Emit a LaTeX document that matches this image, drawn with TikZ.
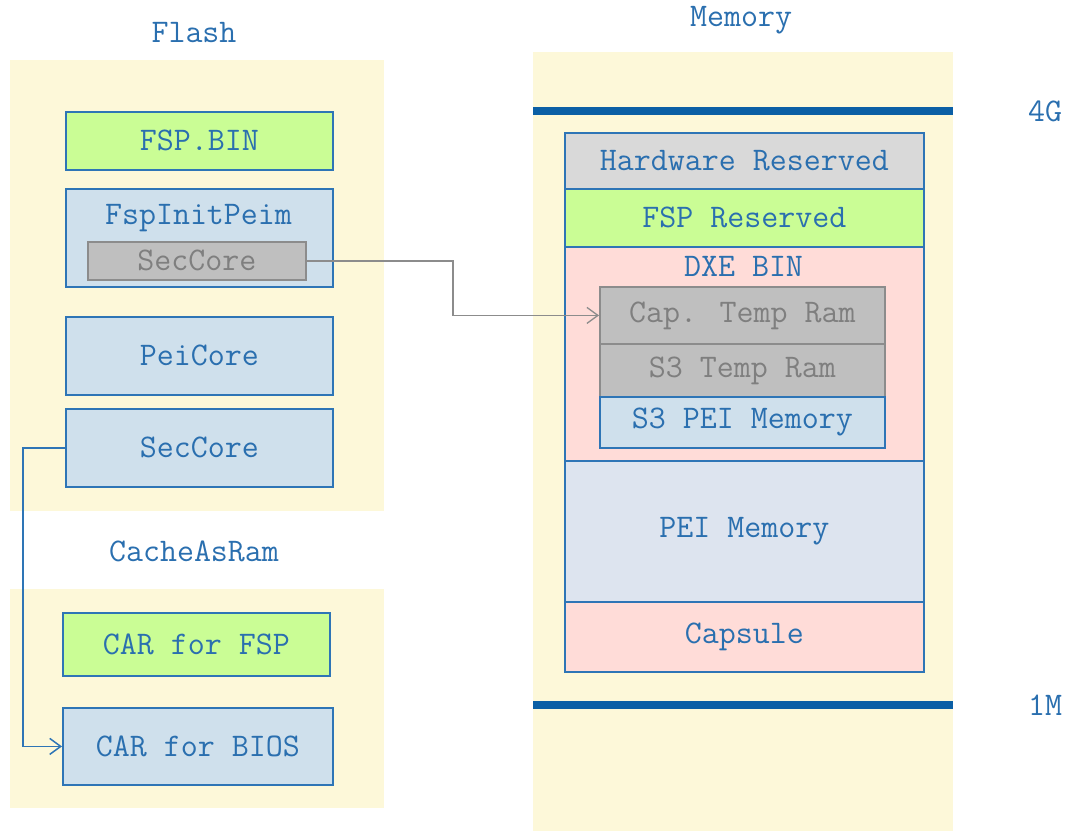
\documentclass[tikz,border=0pt]{standalone}
\usetikzlibrary{arrows.meta}
\definecolor{txtblue}{HTML}{2A6FAF}
\definecolor{edgeblue}{HTML}{2E75B6}
\definecolor{barblue}{HTML}{0B5FA5}
\definecolor{panelyel}{HTML}{FDF8D9}
\definecolor{fgreen}{HTML}{CAFD95}
\definecolor{fltblue}{HTML}{CFE0EC}
\definecolor{fpink}{HTML}{FFDCD8}
\definecolor{fpei}{HTML}{DDE4EF}
\definecolor{fhw}{HTML}{D9D9D9}
\definecolor{fgray}{HTML}{BFBFBF}
\definecolor{grayline}{HTML}{8C8C8C}
\definecolor{graytxt}{HTML}{7F7F7F}
\tikzset{
  txtfont/.style={font=\ttfamily\fontsize{33}{36}\selectfont},
  lbl/.style={txtfont, text=txtblue, inner sep=0pt},
  panel/.style={fill=panelyel, draw=none, anchor=north west, inner sep=0pt},
  box/.style={draw=edgeblue, line width=1.8pt, anchor=north west, inner sep=0pt,
     txtfont, text=txtblue},
  gbox/.style={box, draw=grayline, fill=fgray, text=graytxt},
  bar/.style={barblue, line width=8pt},
  bluecon/.style={edgeblue, line width=1.5pt, -{Straight Barb[length=11pt,width=16pt,line width=1.5pt]}},
  graycon/.style={grayline, line width=1.3pt, -{Straight Barb[length=11pt,width=16pt,line width=1.3pt]}},
}
\begin{document}
\begin{tikzpicture}[x=1pt,y=-1pt]
\useasboundingbox (0,0) rectangle (1067,831);
% titles
\node[lbl] (tflash) at (194,33) {Flash};
\node[lbl] (tcar) at (194,551) {CacheAsRam};
\node[lbl] (tmem) at (741,20) {Memory};
% panels
\node[panel, minimum width=374pt, minimum height=451pt] (p1) at (10,60) {};
\node[panel, minimum width=374pt, minimum height=219pt] (p2) at (10,589) {};
\node[panel, minimum width=420pt, minimum height=779pt] (p3) at (533,52) {};
% flash boxes
\node[box, fill=fgreen, minimum width=267pt, minimum height=58pt] (fspbin) at (65,111) {FSP.BIN};
\node[box, fill=fltblue, minimum width=267pt, minimum height=98pt] (fspinit) at (65,188) {};
\node[lbl] (fspinitt) at (198.5,218) {FspInitPeim};
\node[gbox, minimum width=218pt, minimum height=38pt] (sec1) at (87,241) {SecCore};
\node[box, fill=fltblue, minimum width=267pt, minimum height=78pt] (pei) at (65,316) {PeiCore};
\node[box, fill=fltblue, minimum width=267pt, minimum height=78pt] (sec2) at (65,408) {SecCore};
% CAR boxes
\node[box, fill=fgreen, minimum width=267pt, minimum height=63pt] (carfsp) at (62,612) {CAR for FSP};
\node[box, fill=fltblue, minimum width=270pt, minimum height=77pt] (carbios) at (62,707) {CAR for BIOS};
% memory stack
\draw[bar] (533,111) -- (953,111) coordinate (b4g);
\draw[bar] (533,705) -- (953,705) coordinate (b1m);
\node[lbl] (t4g) at (1045,111) {4G};
\node[lbl] (t1m) at (1045,705) {1M};
\node[box, fill=fhw, minimum width=359pt, minimum height=56pt] (hw) at (564,132) {Hardware Reserved};
\node[box, fill=fgreen, minimum width=359pt, minimum height=58pt] (fspres) at (564,188) {FSP Reserved};
\node[box, fill=fpink, minimum width=359pt, minimum height=214pt] (dxe) at (564,246) {};
\node[lbl] (dxet) at (743.5,266) {DXE BIN};
\node[gbox, minimum width=285pt, minimum height=57pt] (cap) at (599,286) {Cap. Temp Ram};
\node[gbox, minimum width=285pt, minimum height=53pt] (s3t) at (599,343) {S3 Temp Ram};
\node[box, fill=fltblue, minimum width=285pt, minimum height=51pt] (s3p) at (599,396) {S3 PEI Memory};
\node[box, fill=fpei, minimum width=359pt, minimum height=141pt] (peim) at (564,460) {PEI Memory};
\node[box, fill=fpink, minimum width=359pt, minimum height=70pt] (caps) at (564,601) {Capsule};
% connectors
\draw[graycon] (sec1.east) -| (453,290) |- (cap.west);
\draw[bluecon] (sec2.west) -| (23,600) |- (carbios.west);
\end{tikzpicture}
\end{document}
